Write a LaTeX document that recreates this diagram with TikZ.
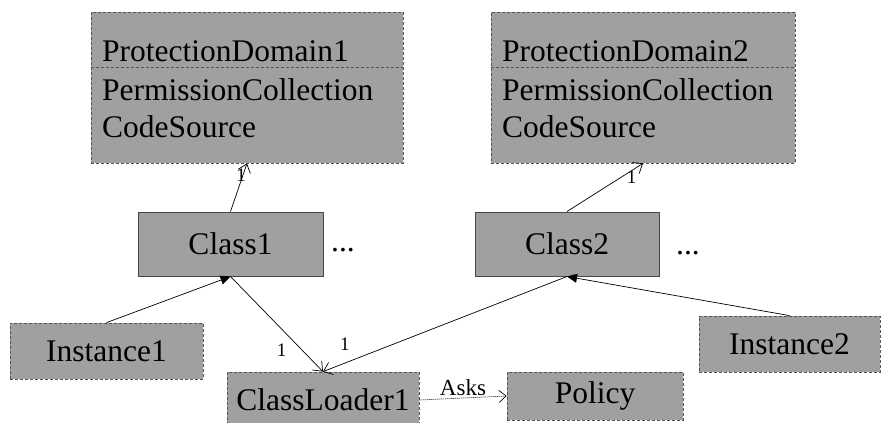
\documentclass[tikz,border=0pt]{standalone}
\usepackage{fontspec}
\setmainfont{Liberation Serif}
\usepackage{tikz}
\usetikzlibrary{arrows.meta}
\definecolor{boxgray}{RGB}{160,160,160}
\definecolor{edgegray}{RGB}{85,85,85}
\definecolor{solidgray}{RGB}{70,70,70}
\tikzstyle{pdbox} = [rectangle, draw=edgegray, fill=boxgray, line width=0.8pt, dash pattern=on 3pt off 2pt, inner sep=0pt]
\tikzstyle{sepline} = [draw=edgegray, line width=0.8pt, dash pattern=on 3pt off 2pt]
\tikzstyle{txt} = [inner sep=0pt, font=\fontsize{31.5}{37}\selectfont]
\tikzstyle{classbox} = [rectangle, draw=solidgray, fill=boxgray, line width=1pt, inner sep=0pt, font=\fontsize{31.5}{37}\selectfont]
\tikzstyle{objbox} = [pdbox, font=\fontsize{31.5}{37}\selectfont]
\tikzstyle{assoc} = [line width=0.7pt, -{Straight Barb[length=8pt,width=13pt]}]
\tikzstyle{instof} = [line width=0.7pt, -{Triangle[length=10pt,width=9pt]}]
\tikzstyle{asks} = [line width=0.7pt, dash pattern=on 1pt off 1pt, -{Straight Barb[length=7pt,width=12pt]}]
\tikzstyle{mult} = [inner sep=0pt, font=\fontsize{19}{22}\selectfont]

\begin{document}
\begin{tikzpicture}[x=1pt, y=-1pt]
\useasboundingbox (0,0) rectangle (881,423);
\clip (0,0) rectangle (881,423);

% protection domains
\node[pdbox, minimum width=312pt, minimum height=151pt] (pd1) at (247,87.5) {};
\draw[sepline] ([yshift=-56pt]pd1.north west) -- ([yshift=-56pt]pd1.north east);
\node[txt, anchor=base west] (pd1name) at (102,61) {ProtectionDomain1};
\node[txt, anchor=base west] (pd1perm) at (102,100) {PermissionCollection};
\node[txt, anchor=base west] (pd1src) at (102,137) {CodeSource};

\node[pdbox, minimum width=304pt, minimum height=151pt] (pd2) at (643,87.5) {};
\draw[sepline] ([yshift=-56pt]pd2.north west) -- ([yshift=-56pt]pd2.north east);
\node[txt, anchor=base west] (pd2name) at (502,61) {ProtectionDomain2};
\node[txt, anchor=base west] (pd2perm) at (502,100) {PermissionCollection};
\node[txt, anchor=base west] (pd2src) at (502,137) {CodeSource};

% classes
\node[classbox, minimum width=185pt, minimum height=64pt] (class1) at (230.5,244) {Class1};
\node[txt, anchor=base] (more1) at (343,251) {...};
\node[classbox, minimum width=184pt, minimum height=64pt] (class2) at (567,244) {Class2};
\node[txt, anchor=base] (more2) at (688,254) {...};

% instances, loader and policy
\node[objbox, minimum width=193pt, minimum height=56pt] (inst1) at (106.5,351) {Instance1};
\node[objbox, minimum width=181pt, minimum height=56pt] (inst2) at (789.5,344) {Instance2};
\node[objbox, minimum width=192pt, minimum height=56pt] (loader) at (323,400) {ClassLoader1};
\node[objbox, minimum width=176pt, minimum height=48pt] (policy) at (595,396) {Policy};

% associations
\draw[assoc] (class1.north) -- node[mult, pos=0.76, xshift=-2pt] {1} (pd1.south);
\draw[assoc] (class2.north) -- node[mult, pos=0.85, yshift=-7pt] {1} (pd2.south);
\draw[assoc] (class1.south) -- node[mult, pos=0.78, xshift=-21pt] {1} (loader.north);
\draw[assoc] (class2.south) -- node[mult, pos=0.91, yshift=19pt] {1} (loader.north);
\draw[instof] (inst1.north) -- (class1.south);
\draw[instof] (inst2.north) -- (class2.south);
\draw[asks] (loader.east) -- node[above=2pt, inner sep=0pt, font=\fontsize{23}{27}\selectfont] {Asks} (policy.west);
\end{tikzpicture}
\end{document}
